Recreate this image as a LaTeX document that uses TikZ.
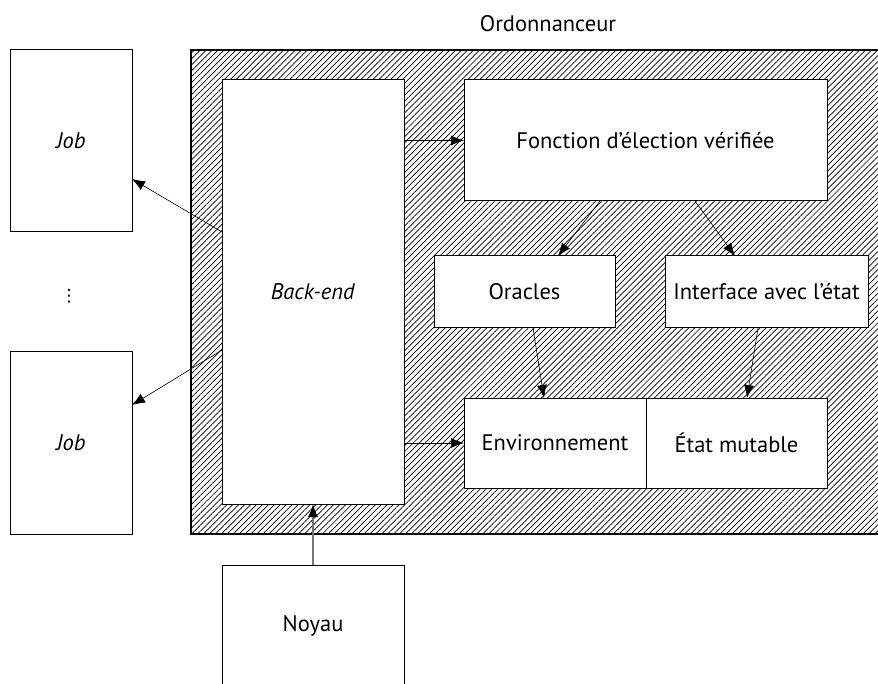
\documentclass[tikz,border=0pt]{standalone}
\usepackage{fontspec}
\setmainfont{PT Sans}
\newfontfamily\dvfont{DejaVu Sans}
\usetikzlibrary{arrows.meta,patterns.meta}
\begin{document}
\begin{tikzpicture}[x=1pt,y=-1pt,
  box/.style={draw, line width=1pt, fill=white, inner sep=0pt, outer sep=0pt},
  conn/.style={-{Latex[length=13pt,width=10pt]}, line width=0.6pt},
  font=\fontsize{22.5}{27}\selectfont]
\useasboundingbox (0,0) rectangle (878,684);
% container
\draw[line width=1.2pt, pattern={Lines[angle=45,distance=4.2pt,line width=0.7pt]}] (191,50) rectangle (895,534);
\node (ordt) at (548,24) {Ordonnanceur};
% nodes
\node[box, minimum width=122pt, minimum height=182pt] (job1) at (71,141) {\textit{Job}};
\node (dots) at (69,296) {\dvfont\fontsize{17}{20}\selectfont ⋮};
\node[box, minimum width=122pt, minimum height=182pt] (job2) at (71,443) {\textit{Job}};
\node[box, minimum width=182pt, minimum height=424pt] (be) at (313,292) {\textit{Back-end}};
\node[box, minimum width=363pt, minimum height=121pt] (fct) at (645.5,140.5) {Fonction d’élection vérifiée};
\node[box, minimum width=181pt, minimum height=72pt] (orc) at (524.5,292) {Oracles};
\node[box, minimum width=203pt, minimum height=72pt] (itf) at (766.5,292) {Interface avec l’état};
\node[box, minimum width=182pt, minimum height=90pt] (env) at (555,443) {Environnement};
\node[box, minimum width=181pt, minimum height=90pt] (etat) at (736.5,443) {État mutable};
\node[box, minimum width=182pt, minimum height=122pt] (noy) at (313,626) {Noyau};
% connectors
\draw[conn] ([yshift=60pt]be.west) -- ([yshift=-38pt]job1.east);
\draw[conn] ([yshift=-58pt]be.west) -- ([yshift=38pt]job2.east);
\draw[conn] (fct.west -| be.east) -- (fct.west);
\draw[conn] (env.west -| be.east) -- (env.west);
\draw[conn] ([xshift=-45.5pt]fct.south) -- ([xshift=33.5pt]orc.north);
\draw[conn] ([xshift=49.5pt]fct.south) -- ([xshift=-31.5pt]itf.north);
\draw[conn] ([xshift=8.5pt]orc.south) -- ([xshift=-11pt]env.north);
\draw[conn] ([xshift=-8.5pt]itf.south) -- ([xshift=10.5pt]etat.north);
\draw[-{Latex[length=13pt,width=10pt,color=black]}, line width=1.3pt, draw=black!55] (noy.north) -- (be.south);
\end{tikzpicture}
\end{document}
